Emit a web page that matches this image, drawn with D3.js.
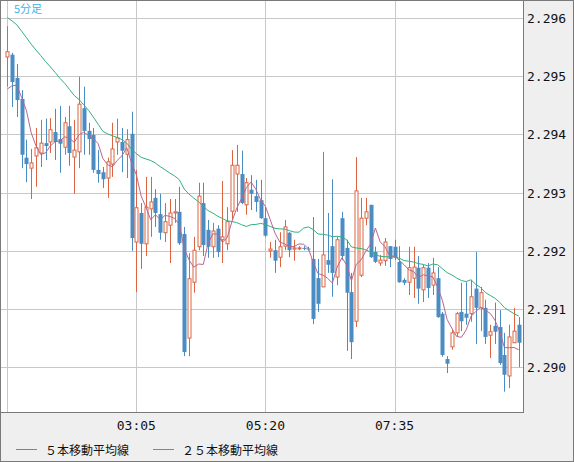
<!DOCTYPE html>
<html><head><meta charset="utf-8">
<script src="https://cdn.jsdelivr.net/npm/d3@7"></script>
<style>
body{margin:0;background:#fff}
svg{display:block;font-family:"DejaVu Sans Mono","Liberation Mono",monospace}
</style></head>
<body><svg id="c" width="574" height="462"></svg>
<script>
// OHLC in 1e-5 units (2.29533 -> 229533), 5-minute bars from 00:50
var opens  = [229533,229537,229497,229461,229360,229342,229363,229368,229385,229387,229404,229392,229378,229414,229361,229370,229445,229406,229399,229339,229335,229325,229349,229387,229387,229366,229401,229215,229265,229212,229272,229291,229263,229231,229244,229265,229267,229229,229050,229146,229207,229282,229236,229207,229238,229219,229212,229268,229332,229332,229279,229305,229294,229287,229256,229200,229201,229189,229208,229231,229203,229205,229205,229204,229186,229153,229138,229184,229208,229155,229256,229205,229129,229079,229158,229256,229279,229198,229179,229183,229208,229207,229181,229150,229146,229153,229171,229133,229171,229141,229153,229092,229014,229035,229059,229095,229092,229092,229135,229102,229102,229055,229071,229069,229021,228985,229042,229073];
var highs  = [229586,229540,229521,229476,229391,229375,229411,229425,229427,229428,229444,229449,229430,229449,229425,229499,229482,229420,229411,229373,229344,229360,229420,229427,229411,229409,229439,229339,229282,229327,229327,229306,229298,229282,229289,229289,229310,229241,229196,229224,229317,229317,229253,229248,229244,229320,229275,229373,229382,229372,229325,229330,229322,229322,229275,229215,229219,229232,229253,229232,229219,229208,229208,229207,229258,229186,229370,229265,229323,229224,229267,229219,229162,229361,229291,229291,229279,229207,229193,229222,229208,229219,229208,229153,229207,229207,229191,229176,229179,229188,229172,229095,229019,229066,229095,229145,229146,229150,229198,229138,229116,229073,229111,229098,229059,229073,229102,229086];
var lows   = [229482,229447,229430,229342,229318,229289,229310,229344,229356,229368,229356,229334,229365,229346,229298,229342,229365,229365,229334,229317,229308,229291,229327,229365,229335,229325,229200,229129,229169,229191,229224,229241,229219,229215,229179,229248,229210,229019,229019,229128,229201,229191,229188,229188,229189,229179,229201,229253,229267,229280,229262,229270,229267,229255,229224,229188,229162,229172,229201,229189,229183,229201,229201,229200,229074,229095,229138,229162,229121,229141,229184,229028,229014,229069,229155,229244,229188,229179,229174,229174,229172,229184,229145,229141,229124,229119,229109,229112,229119,229124,229085,229018,228990,229030,229052,229062,229073,229078,229040,229062,229040,229016,229040,229004,228958,228964,229042,229000];
var closes = [229542,229490,229459,229365,229349,229351,229377,229385,229380,229408,229387,229384,229420,229368,229373,229452,229406,229392,229339,229332,229323,229353,229375,229394,229372,229391,229222,229274,229212,229275,229284,229265,229231,229250,229265,229267,229213,229026,229152,229201,229294,229210,229207,229234,229198,229224,229250,229347,229347,229282,229317,229298,229284,229256,229226,229203,229183,229207,229241,229201,229205,229205,229204,229203,229083,229109,229193,229176,229162,229219,229191,229128,229043,229303,229256,229267,229189,229181,229184,229215,229186,229188,229146,229145,229171,229172,229135,229171,229136,229162,229086,229021,229006,229059,229092,229079,229085,229121,229102,229128,229052,229061,229061,229007,228987,229052,229062,229042];
// closes before the first visible bar (needed for the moving averages)
var priorCloses = [229640,229628,229636,229625,229634,229630,229622,229638,229631,229626,229640,229633,229629,229637,229624,229635,229630,229628,229636,229632,229462,229455,229470,229461];

var priceTicks = [2.296,2.295,2.294,2.293,2.292,2.291,2.290];
var timeTicks = [{i:27,label:"03:05"},{i:54,label:"05:20"},{i:81,label:"07:35"}];
var gridBars = [0,27,54,81];
var title = "5分足";
var legend = [{name:"５本移動平均線",color:"#b8668f"},{name:"２５本移動平均線",color:"#33b07c"}];

var UP = "#dc6440", DOWN = "#4b8cc3";
var P = 1e5;
var bars = opens.map(function(o,i){return {i:i,o:o/P,h:highs[i]/P,l:lows[i]/P,c:closes[i]/P};});

function movingAvg(n){
  var all = priorCloses.concat(closes);
  return closes.map(function(_,i){
    var k = i + priorCloses.length;
    return {i:i, v:d3.mean(all.slice(Math.max(0,k-n+1),k+1))/P};
  });
}
var ma5 = movingAvg(5), ma25 = movingAvg(25);

var svg = d3.select("#c");
var L = 7, R = 523, T = 1, B = 412;

svg.append("rect").attr("width",574).attr("height",462).attr("fill","#efefef");
svg.append("rect").attr("x",0.5).attr("y",0.5).attr("width",573).attr("height",461)
  .attr("fill","none").attr("stroke","#7a7a7a");
svg.append("rect").attr("x",1).attr("y",T).attr("width",R-1).attr("height",B-T).attr("fill","#fff");

var x = d3.scaleLinear().domain([0,107]).range([7.3,518.8]);
var y = d3.scaleLinear().domain([2.296,2.290]).range([18,367.2]);

var g = svg.append("g");
// grid
g.selectAll(".hg").data(priceTicks).enter().append("line")
  .attr("x1",1).attr("x2",R).attr("y1",function(d){return Math.round(y(d))+0.5;})
  .attr("y2",function(d){return Math.round(y(d))+0.5;}).attr("stroke","#c8c8c8");
g.selectAll(".vg").data(gridBars).enter().append("line")
  .attr("y1",T).attr("y2",B).attr("x1",function(d){return Math.round(x(d))+0.5;})
  .attr("x2",function(d){return Math.round(x(d))+0.5;}).attr("stroke","#c8c8c8");

// candles
var cg = g.selectAll(".bar").data(bars).enter().append("g");
cg.append("line")
  .attr("x1",function(d){return Math.round(x(d.i))+0.5;})
  .attr("x2",function(d){return Math.round(x(d.i))+0.5;})
  .attr("y1",function(d){return y(d.h);}).attr("y2",function(d){return y(d.l);})
  .attr("stroke",function(d){return d.c>=d.o?UP:DOWN;});
cg.append("rect")
  .attr("x",function(d){return Math.round(x(d.i))-1.5+(d.c>=d.o?0.5:0);})
  .attr("width",function(d){return d.c>=d.o?3:4;})
  .attr("y",function(d){return y(Math.max(d.o,d.c));})
  .attr("height",function(d){return Math.max(1,Math.abs(y(d.o)-y(d.c)));})
  .attr("fill",function(d){return d.c>=d.o?"#fff":DOWN;})
  .attr("stroke",function(d){return d.c>=d.o?UP:"none";});

// moving averages
var line = d3.line().x(function(d){return x(d.i);}).y(function(d){return y(d.v);});
g.append("path").datum(ma25).attr("d",line).attr("fill","none").attr("stroke",legend[1].color);
g.append("path").datum(ma5).attr("d",line).attr("fill","none").attr("stroke",legend[0].color);

// plot frame
svg.append("line").attr("x1",R+0.5).attr("x2",R+0.5).attr("y1",0).attr("y2",B).attr("stroke","#7a7a7a");
svg.append("line").attr("x1",0).attr("x2",R+1).attr("y1",B+0.5).attr("y2",B+0.5).attr("stroke","#7a7a7a");

// axes text
svg.selectAll(".pt").data(priceTicks).enter().append("text")
  .attr("x",527).attr("y",function(d){return y(d)+5;})
  .attr("font-size",13).attr("fill","#111").text(function(d){return d.toFixed(3);});
svg.selectAll(".tt").data(timeTicks).enter().append("text")
  .attr("x",function(d){return x(d.i);}).attr("y",430).attr("text-anchor","middle")
  .attr("font-size",13).attr("fill","#111").text(function(d){return d.label;});

svg.append("text").attr("x",14).attr("y",13).attr("font-size",11)
  .attr("font-family","'Noto Sans CJK JP',sans-serif").attr("fill","#3eb4ea").text(title);

var lg = svg.selectAll(".lg").data(legend).enter().append("g")
  .attr("transform",function(d,i){return "translate("+(i?153:16)+",455)";});
lg.append("line").attr("x1",0).attr("x2",21).attr("y1",-5.5).attr("y2",-5.5)
  .attr("stroke",function(d){return d.color;});
lg.append("text").attr("x",29).attr("y",0).attr("font-size",12)
  .attr("font-family","'Noto Sans CJK JP',sans-serif").attr("fill","#111")
  .text(function(d){return d.name;});
</script></body></html>
